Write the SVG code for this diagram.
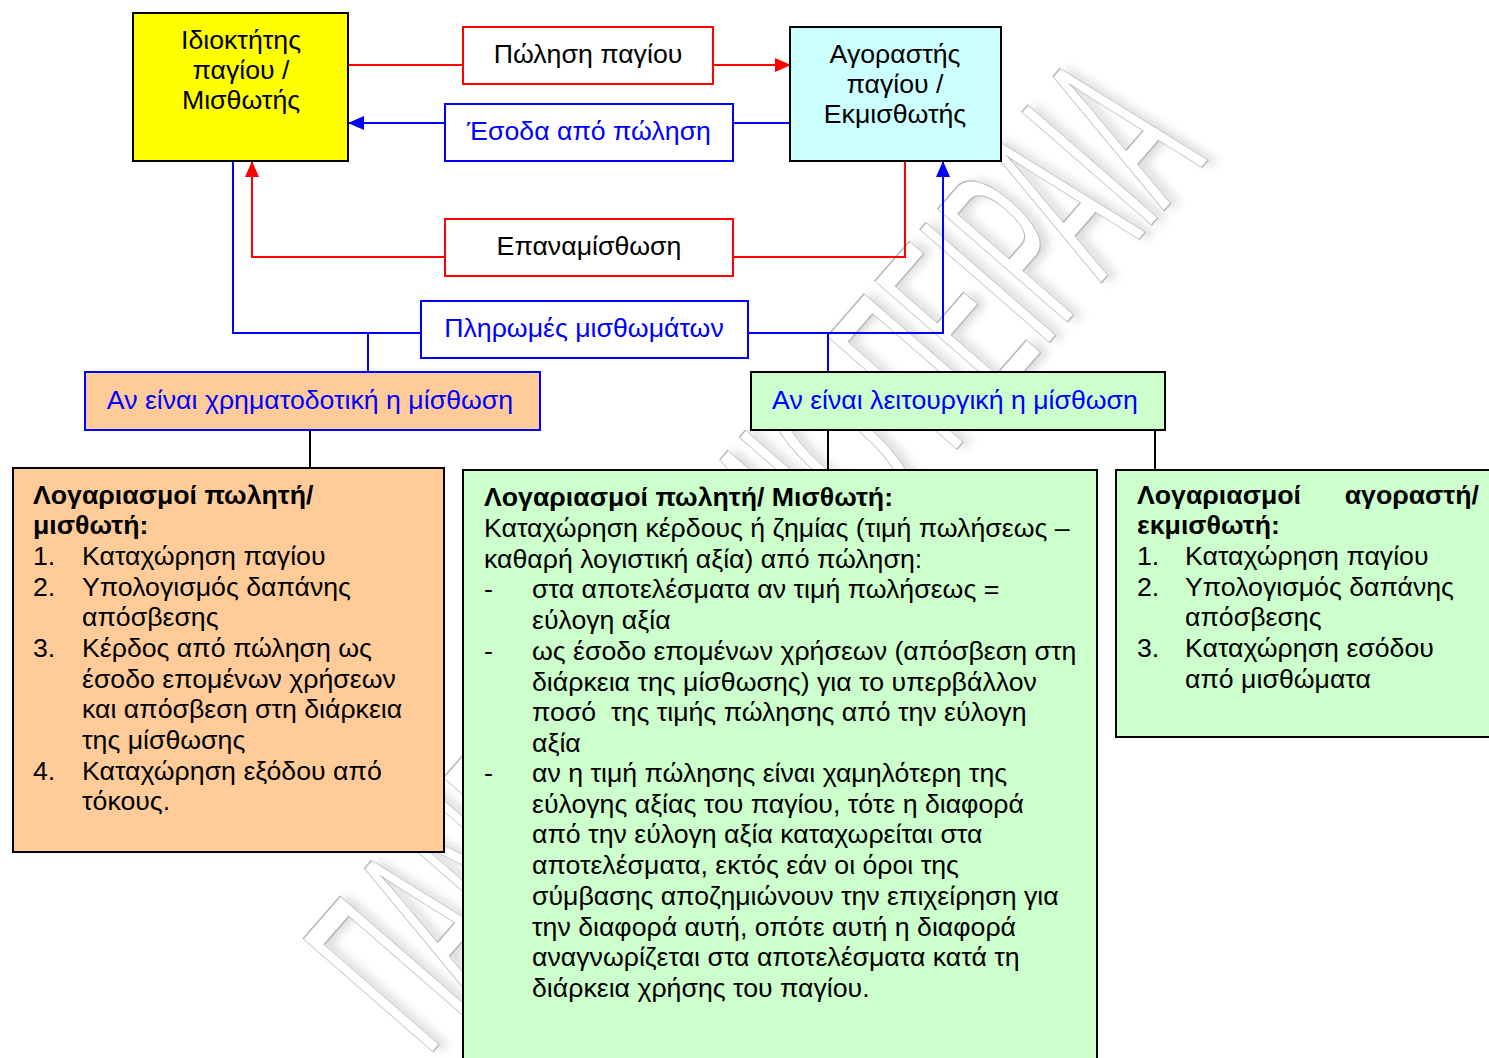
<svg xmlns="http://www.w3.org/2000/svg" width="1489" height="1058" viewBox="0 0 1489 1058">
<style>
text{font-family:"Liberation Sans",Arial,"DejaVu Sans",sans-serif;font-size:26.7px;fill:#000}
.c{text-anchor:middle}
.b{font-weight:bold}
.blue{fill:#0000ff}
.box{stroke-width:2}
.k{stroke:#000}
.r{stroke:#ff0000}
.bl{stroke:#0000ff}
.ln{fill:none;stroke-width:2}
.wm{font-size:250px;fill:#fff;stroke:#b8b8b8;stroke-width:1.5}
.wms{font-size:250px;fill:#999;stroke:none}
</style>
<defs>
<marker id="ar" markerUnits="userSpaceOnUse" markerWidth="16" markerHeight="14" refX="15" refY="7" orient="auto"><path d="M0,0 L16,7 L0,14 Z" fill="#ff0000"/></marker>
<marker id="ab" markerUnits="userSpaceOnUse" markerWidth="16" markerHeight="14" refX="15" refY="7" orient="auto"><path d="M0,0 L16,7 L0,14 Z" fill="#0000ff"/></marker>
<filter id="blur" x="-10%" y="-10%" width="120%" height="120%"><feGaussianBlur stdDeviation="5"/></filter>
</defs>
<rect width="1489" height="1058" fill="#fff"/>
<g id="watermark" transform="translate(750,550) rotate(-49)">
<text class="wms c" x="6" y="96" textLength="1190" lengthAdjust="spacingAndGlyphs" filter="url(#blur)" opacity="0.35">ΠΑΝΕΠΙΣΤΗΜΙΟ ΠΕΙΡΑΙΑ</text>
<text class="wm c" x="0" y="90" textLength="1190" lengthAdjust="spacingAndGlyphs">ΠΑΝΕΠΙΣΤΗΜΙΟ ΠΕΙΡΑΙΑ</text>
</g>
<g id="connectors">
<path class="ln r" d="M348,65 H790" marker-end="url(#ar)"/>
<path class="ln bl" d="M790,123 H349" marker-end="url(#ab)"/>
<path class="ln r" d="M905,161 V257 H252 V162" marker-end="url(#ar)"/>
<path class="ln bl" d="M233,161 V333 H943 V162" marker-end="url(#ab)"/>
<path class="ln bl" d="M368,333 V372 M828,333 V372"/>
<path class="ln k" d="M310,430 V468 M828,430 V470 M1155,430 V470"/>
</g>
<g id="owner">
<rect class="box k" x="133" y="13" width="215" height="148" fill="#ffff00"/>
<text class="c" x="241" y="49">Ιδιοκτήτης</text>
<text class="c" x="241" y="79">παγίου /</text>
<text class="c" x="241" y="109">Μισθωτής</text>
</g>
<g id="sale">
<rect class="box r" x="463" y="27" width="250" height="57" fill="#fff"/>
<text class="c" x="588" y="63">Πώληση παγίου</text>
</g>
<g id="buyer">
<rect class="box k" x="790" y="27" width="211" height="134" fill="#ccffff"/>
<text class="c" x="895" y="63">Αγοραστής</text>
<text class="c" x="895" y="93">παγίου /</text>
<text class="c" x="895" y="123">Εκμισθωτής</text>
</g>
<g id="proceeds">
<rect class="box bl" x="445" y="104" width="288" height="57" fill="#fff"/>
<text class="c blue" x="589" y="140">Έσοδα από πώληση</text>
</g>
<g id="leaseback">
<rect class="box r" x="445" y="219" width="288" height="57" fill="#fff"/>
<text class="c" x="589" y="255">Επαναμίσθωση</text>
</g>
<g id="payments">
<rect class="box bl" x="421" y="301" width="327" height="57" fill="#fff"/>
<text class="c blue" x="584" y="337">Πληρωμές μισθωμάτων</text>
</g>
<g id="finance">
<rect class="box bl" x="85" y="372" width="455" height="58" fill="#ffcc99"/>
<text class="c blue" x="310" y="409">Αν είναι χρηματοδοτική η μίσθωση</text>
</g>
<g id="operating">
<rect class="box k" x="751" y="372" width="414" height="58" fill="#ccffcc"/>
<text class="c blue" x="955" y="409">Αν είναι λειτουργική η μίσθωση</text>
</g>
<g id="seller-finance">
<rect class="box k" x="13" y="468" width="431" height="384" fill="#ffcc99"/>
<text class="b" x="33" y="504">Λογαριασμοί πωλητή/</text>
<text class="b" x="33" y="534">μισθωτή:</text>
<text x="33" y="565">1.</text><text x="82" y="565">Καταχώρηση παγίου</text>
<text x="33" y="596">2.</text><text x="82" y="596">Υπολογισμός δαπάνης</text>
<text x="82" y="626">απόσβεσης</text>
<text x="33" y="657">3.</text><text x="82" y="657">Κέρδος από πώληση ως</text>
<text x="82" y="688">έσοδο επομένων χρήσεων</text>
<text x="82" y="718">και απόσβεση στη διάρκεια</text>
<text x="82" y="749">της μίσθωσης</text>
<text x="33" y="780">4.</text><text x="82" y="780">Καταχώρηση εξόδου από</text>
<text x="82" y="810">τόκους.</text>
</g>
<g id="seller-operating">
<rect class="box k" x="463" y="470" width="634" height="600" fill="#ccffcc"/>
<text class="b" x="484" y="506">Λογαριασμοί πωλητή/ Μισθωτή:</text>
<text x="484" y="537">Καταχώρηση κέρδους ή ζημίας (τιμή πωλήσεως –</text>
<text x="484" y="568">καθαρή λογιστική αξία) από πώληση:</text>
<text x="484" y="598">-</text><text x="532" y="598">στα αποτελέσματα αν τιμή πωλήσεως =</text>
<text x="532" y="629">εύλογη αξία</text>
<text x="484" y="660">-</text><text x="532" y="660">ως έσοδο επομένων χρήσεων (απόσβεση στη</text>
<text x="532" y="691">διάρκεια της μίσθωσης) για το υπερβάλλον</text>
<text x="532" y="721" style="white-space:pre">ποσό  της τιμής πώλησης από την εύλογη</text>
<text x="532" y="752">αξία</text>
<text x="484" y="782">-</text><text x="532" y="782">αν η τιμή πώλησης είναι χαμηλότερη της</text>
<text x="532" y="813">εύλογης αξίας του παγίου, τότε η διαφορά</text>
<text x="532" y="843">από την εύλογη αξία καταχωρείται στα</text>
<text x="532" y="874">αποτελέσματα, εκτός εάν οι όροι της</text>
<text x="532" y="905">σύμβασης αποζημιώνουν την επιχείρηση για</text>
<text x="532" y="936">την διαφορά αυτή, οπότε αυτή η διαφορά</text>
<text x="532" y="966">αναγνωρίζεται στα αποτελέσματα κατά τη</text>
<text x="532" y="997">διάρκεια χρήσης του παγίου.</text>
</g>
<g id="buyer-operating">
<rect class="box k" x="1116" y="470" width="380" height="267" fill="#ccffcc"/>
<text class="b" x="1137" y="504">Λογαριασμοί</text>
<text class="b" x="1479" y="504" text-anchor="end">αγοραστή/</text>
<text class="b" x="1137" y="534">εκμισθωτή:</text>
<text x="1137" y="565">1.</text><text x="1185" y="565">Καταχώρηση παγίου</text>
<text x="1137" y="596">2.</text><text x="1185" y="596">Υπολογισμός δαπάνης</text>
<text x="1185" y="626">απόσβεσης</text>
<text x="1137" y="657">3.</text><text x="1185" y="657">Καταχώρηση εσόδου</text>
<text x="1185" y="688">από μισθώματα</text>
</g>
</svg>
